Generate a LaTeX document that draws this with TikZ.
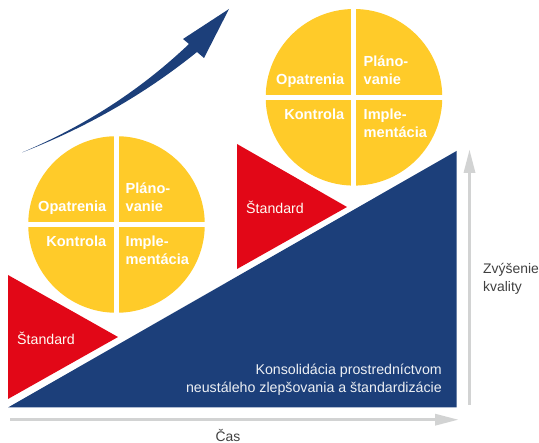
\documentclass[tikz,border=0pt]{standalone}
\usepackage{fontspec}
\setmainfont{Liberation Sans}
\definecolor{navy}{HTML}{1C3F7A}
\definecolor{redd}{HTML}{E20717}
\definecolor{gold}{HTML}{FFCB29}
\definecolor{lgray}{HTML}{D2D3D3}
\definecolor{dtext}{HTML}{404040}
\tikzset{
  qlabel/.style={font=\fontsize{14.6}{17}\selectfont\bfseries,text=white,inner sep=0pt,align=left},
  stdlabel/.style={font=\fontsize{14.2}{17}\selectfont,text=white!95!gold,inner sep=0pt},
  inlabel/.style={font=\fontsize{14.2}{17}\selectfont,text=white!92!navy,inner sep=0pt},
  plain/.style={font=\fontsize{13.9}{17.5}\selectfont,text=dtext,inner sep=0pt,align=left},
  gapbar/.style={fill=white,draw=none}
}
\begin{document}
\begin{tikzpicture}[x=1pt,y=-1pt]
\useasboundingbox (0,0) rectangle (539,443);
% blue wedge
\fill[navy] (8,407.5) -- (456.5,151) -- (456.5,407.5) -- cycle;
% red triangles
\fill[redd] (8,275) -- (118,337) -- (8,399) -- cycle;
\fill[redd] (237,144) -- (347,207) -- (237,269) -- cycle;
% circles
\fill[gold] (116.5,224.5) circle (88.3);
\fill[gapbar] (114,135) rectangle (119,314);
\fill[gapbar] (27,222) rectangle (206,227);
\fill[gold] (354,97.3) circle (88.3);
\fill[gapbar] (351,8) rectangle (356,187);
\fill[gapbar] (265,95) rectangle (444,100);
% rising arrow
\fill[navy] (22,152.5)
  .. controls (70,132) and (130,100) .. (189,44)
  -- (183,39) -- (229,9) -- (204,58) -- (197,52)
  .. controls (140,98) and (80,130) .. (22,152.5) -- cycle;
% axes
\coordinate (hs) at (10,419.7);
\coordinate (hb) at (435,419.7);
\coordinate (vs) at (469.5,405);
\coordinate (vb) at (469.5,173);
\draw[lgray,line width=2.4pt] (hs) -- (hb);
\fill[lgray] (435,413.7) -- (458,419.7) -- (435,425.7) -- cycle;
\draw[lgray,line width=2.4pt] (vs) -- (vb);
\fill[lgray] (463.5,173) -- (469.5,150) -- (475.5,173) -- cycle;
% labels circle 1
\node[qlabel,anchor=base east] (o1) at (106.5,212) {Opatrenia};
\node[qlabel,anchor=base west] (p1) at (125.5,194) {Pláno-};
\node[qlabel,anchor=base west] (v1) at (125.5,212) {vanie};
\node[qlabel,anchor=base east] (k1) at (106.5,247) {Kontrola};
\node[qlabel,anchor=base west] (i1) at (125.5,247) {Imple-};
\node[qlabel,anchor=base west] (m1) at (125.5,264.5) {mentácia};
% labels circle 2
\node[qlabel,anchor=base east] (o2) at (344.5,85) {Opatrenia};
\node[qlabel,anchor=base west] (p2) at (363.5,67) {Pláno-};
\node[qlabel,anchor=base west] (v2) at (363.5,85) {vanie};
\node[qlabel,anchor=base east] (k2) at (344.5,120) {Kontrola};
\node[qlabel,anchor=base west] (i2) at (363.5,120) {Imple-};
\node[qlabel,anchor=base west] (m2) at (363.5,137.5) {mentácia};
% red labels
\node[stdlabel,anchor=base west] (s1) at (17,345) {Štandard};
\node[stdlabel,anchor=base west] (s2) at (246,214) {Štandard};
% other text
\node[inlabel,anchor=base east] (c1) at (442,375) {Konsolidácia prostredníctvom};
\node[inlabel,anchor=base east] (c2) at (442,393) {neustáleho zlepšovania a štandardizácie};
\node[plain,anchor=base west] (z1) at (483,274) {Zvýšenie};
\node[plain,anchor=base west] (z2) at (483,292) {kvality};
\node[plain,anchor=base] (cas) at (228,441.5) {Čas};
\end{tikzpicture}
\end{document}
